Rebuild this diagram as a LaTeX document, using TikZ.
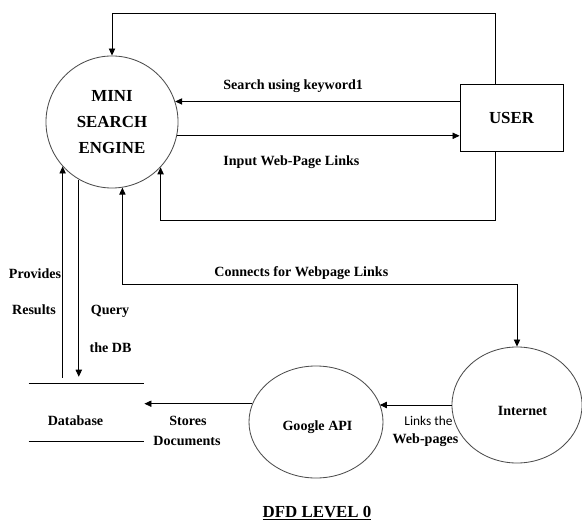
\documentclass[tikz,border=0pt]{standalone}
\usepackage{fontspec}
\setmainfont{Liberation Serif}
\newfontfamily\linkfont{Carlito}
\usetikzlibrary{arrows.meta, positioning, shapes.geometric, calc}

\begin{document}
\begin{tikzpicture}[
  x=0.025cm, y=-0.025cm,
  line width=0.6pt,
  process/.style={
    circle, draw=black!70, minimum size=3.3cm,
    align=center, font=\fontsize{12}{18.5}\selectfont\bfseries
  },
  entity/.style={
    rectangle, draw, minimum width=2.575cm, minimum height=1.675cm,
    font=\fontsize{12}{14}\selectfont\bfseries
  },
  blob/.style={
    ellipse, draw=black!70, font=\fontsize{10}{12}\selectfont\bfseries
  },
  store/.style={minimum width=2.875cm, minimum height=1.425cm},
  flow/.style={-{Triangle[length=5pt, width=4.5pt]}},
  twoway/.style={{Triangle[length=5pt, width=4.5pt]}-{Triangle[length=5pt, width=4.5pt]}},
  lbl/.style={font=\fontsize{10}{12}\selectfont\bfseries, inner sep=0pt},
]
\useasboundingbox (0,0) rectangle (582,523);

\node[process] (mse) at (112,122) {MINI\\SEARCH\\ENGINE};
\node[entity] (user) at (511.5,117.5) {USER};
\node[blob, minimum width=3.35cm, minimum height=2.8cm] (gapi) at (316,422) {};
\node[blob, minimum width=3.25cm, minimum height=2.9cm] (inet) at (517,405) {};
\node[store] (db) at (86.5,412.5) {};
\draw (db.north west) -- (db.north east) (db.south west) -- (db.south east);

% texts
\node[lbl, anchor=base] (gapiname) at (317.5,430) {Google API};
\node[lbl, anchor=base] (inetname) at (522.5,415) {Internet};
\node[lbl, anchor=base] (dbname) at (75.5,425) {Database};
\node[lbl, anchor=base west] (search) at (223,90) {Search using keyword1};
\node[lbl, anchor=base west] (input) at (223,166) {Input Web-Page Links};
\node[lbl, anchor=base west] (connects) at (214,277) {Connects for Webpage Links};
\node[lbl, anchor=base] (provides) at (35,278) {Provides};
\node[lbl, anchor=base] (results) at (34,314) {Results};
\node[lbl, anchor=base] (query) at (110,314) {Query};
\node[lbl, anchor=base] (thedb) at (110.5,352) {the DB};
\node[lbl, anchor=base] (stores) at (188,425) {Stores};
\node[lbl, anchor=base] (docs) at (187,445) {Documents};
\node[lbl, anchor=base, font=\linkfont\fontsize{9.5}{12}\selectfont] (linksthe) at (428.5,425) {Links the};
\node[lbl, anchor=base] (webpages) at (425.5,443) {Web-pages};
\node[lbl, anchor=base, font=\fontsize{12}{14}\selectfont\bfseries] (title) at (317,517) {\underline{DFD LEVEL 0}};

% flows
\draw[flow] ([xshift=-0.41cm]user.north) |- ([yshift=1.05cm]mse.north) -- (mse.north);
\draw[flow] (mse.18 -| user.west) -- (mse.18);
\draw[flow] (mse.-12) -- (mse.-12 -| user.west);
\draw[flow] ([xshift=-0.41cm]user.south) -- ++(0,69) -| (mse.-43);
\draw[twoway] (inet.north) -- ++(0,-62) -| (mse.-81);
\draw[flow, shorten <=0.15cm] (mse.-138 |- db.north) -- (mse.-138);
\draw[flow, shorten >=0.17cm] (mse.-120) -- (mse.-120 |- db.north);
\draw[flow] (inet.west) -- (inet.west -| gapi.16);
\draw[flow] (gapi.164) -- (gapi.164 -| db.east);
\end{tikzpicture}
\end{document}
